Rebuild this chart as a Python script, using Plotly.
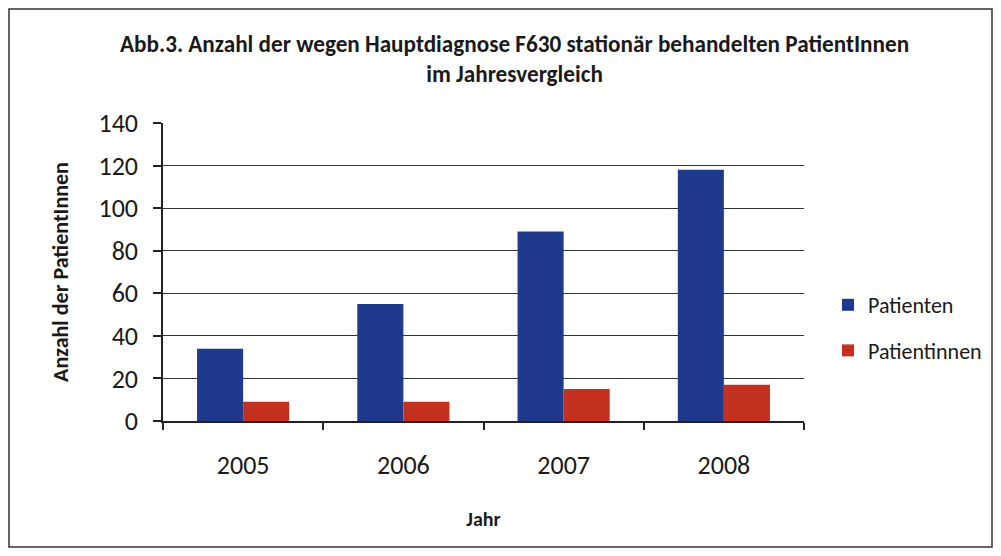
import plotly.graph_objects as go

jahre = ["2005", "2006", "2007", "2008"]
patienten = [34, 55, 89, 118]
patientinnen = [9, 9, 15, 17]
y_ticks = [0, 20, 40, 60, 80, 100, 120, 140]
titel_1 = "Abb.3. Anzahl der wegen Hauptdiagnose F630 stationär behandelten PatientInnen"
titel_2 = "im Jahresvergleich"

FONT = "Carlito, Lato, sans-serif"
TXT = "#1a1a1a"
# page body has an 8px margin; figure coords = page coords - 8
W, H = 985, 540
L, R, T, B = 155, 189, 115, 127
pw, ph = W - L - R, H - T - B

def px_x(x):
    return (x - L) / pw

def px_y(y):
    return (H - B - y) / ph

fig = go.Figure()
fig.add_trace(go.Bar(x=jahre, y=patienten, name="Patienten", legendgroup="a",
                     marker=dict(color="#1F3A8C", line=dict(width=0))))
fig.add_trace(go.Bar(x=jahre, y=patientinnen, name="Patientinnen", legendgroup="b",
                     marker=dict(color="#C3301F", line=dict(width=0))))

fig.update_layout(
    width=W, height=H,
    margin=dict(l=L, r=R, t=T, b=B, autoexpand=False),
    paper_bgcolor="white", plot_bgcolor="white",
    font=dict(family=FONT, color=TXT),
    barmode="group", bargap=0.425, bargroupgap=0,
    xaxis=dict(type="category", showgrid=False, showline=True, linecolor="#222", linewidth=1.5,
               ticks="outside", ticklen=7, tickcolor="#222", tickwidth=1.5, automargin=False,
               tickson="boundaries", tickfont=dict(size=26, family=FONT, color=TXT),
               ticklabelstandoff=20,
               title=dict(text="<b>Jahr</b>", font=dict(size=20, family=FONT, color=TXT), standoff=32)),
    yaxis=dict(range=[0, 140], tickvals=y_ticks, showgrid=True, gridcolor="#333", gridwidth=1.3,
               showline=True, linecolor="#222", linewidth=1.5, ticks="outside", ticklen=8,
               tickcolor="#222", tickwidth=1.5, zeroline=False, automargin=False,
               tickfont=dict(size=26, family=FONT, color=TXT), ticklabelstandoff=10,
               title=dict(text="<b>Anzahl der PatientInnen</b>", font=dict(size=22, family=FONT, color=TXT),
                          standoff=24)),
    legend=dict(x=px_x(820), y=px_y(320), xanchor="left", yanchor="middle",
                font=dict(size=22, family=FONT, color=TXT), tracegroupgap=14,
                itemwidth=30, bgcolor="rgba(0,0,0,0)"),
    annotations=[
        dict(text="<b>" + titel_1 + "<br>" + titel_2 + "</b>", xref="paper", yref="paper",
             x=px_x(506), y=px_y(51), xanchor="center", yanchor="middle", showarrow=False,
             align="center", font=dict(size=23.2, family=FONT, color=TXT)),
    ],
    shapes=[dict(type="rect", xref="paper", yref="paper",
                 x0=px_x(1), x1=px_x(984), y0=px_y(539), y1=px_y(1),
                 line=dict(color="#333", width=1.5), fillcolor="rgba(0,0,0,0)", layer="below")],
)

fig.write_html("out.html")
